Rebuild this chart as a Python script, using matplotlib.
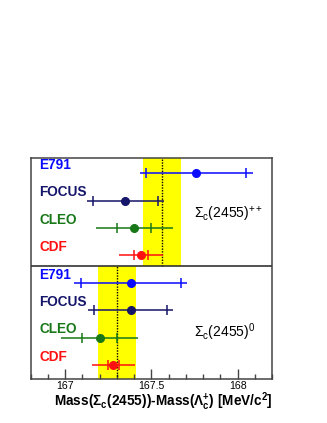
import numpy as np
import matplotlib
matplotlib.use('Agg')
import matplotlib.pyplot as plt

plt.rcParams['font.family'] = ['Liberation Sans', 'DejaVu Sans']
plt.rcParams['mathtext.fontset'] = 'custom'
plt.rcParams['mathtext.rm'] = 'Liberation Sans'
plt.rcParams['mathtext.it'] = 'Liberation Sans:italic'
plt.rcParams['mathtext.bf'] = 'Liberation Sans:bold'

# 측정값 (MeV/c^2): 중심값, 통계오차, 계통오차
experiments = ['E791', 'FOCUS', 'CLEO', 'CDF']
colors = ['#0a0aff', '#15156a', '#187818', '#ff1010']

pp_val = [167.76, 167.35, 167.40, 167.44]
pp_stat = [0.29, 0.19, 0.10, 0.04]
pp_syst = [0.15, 0.12, 0.20, 0.12]

z_val = [167.38, 167.38, 167.20, 167.28]
z_stat = [0.29, 0.21, 0.10, 0.03]
z_syst = [0.15, 0.13, 0.20, 0.12]

# PDG 평균
pdg_pp = (167.56, 0.11)
pdg_z = (167.30, 0.11)

fig = plt.figure(figsize=(3.27, 4.23), dpi=100)
ax = fig.add_axes([0.0933, 0.1047, 0.7394, 0.5211])

ytop = 8.04
sep = 4.1
ax.set_xlim(166.8, 168.2)
ax.set_ylim(0, ytop)


def draw_panel(vals, stats, systs, pdg, y0, y1, label):
    m, e = pdg
    ax.fill_betweenx([y0, y1], m - e, m + e, color='#ffff00', lw=0, zorder=1)
    ax.vlines(m, y0, y1, colors='black', linestyles=(0, (1, 1)), lw=1, zorder=2)
    rows = np.arange(len(vals))[::-1] + y0 + 0.5 - (0.1 if y0 > 0 else 0)
    for i in range(len(vals)):
        tot = np.hypot(stats[i], systs[i])
        y = rows[i]
        ax.hlines(y, vals[i] - tot, vals[i] + tot, colors=colors[i], lw=1.1, zorder=3)
        ax.plot([vals[i] - stats[i], vals[i] + stats[i]], [y, y], ls='none',
                marker='|', ms=7, mew=1.1, color=colors[i], zorder=3)
        ax.plot(vals[i], y, 'o', ms=5.5, color=colors[i], zorder=4)
        ax.text(166.85, y + 0.3, experiments[i], color=colors[i], fontsize=9.8,
                fontweight='bold', va='center', ha='left')
    ax.text(167.745, y0 + 1.9 + (0.0 if y0 > 0 else -0.2), label,
            fontsize=10, va='center', ha='left')


draw_panel(pp_val, pp_stat, pp_syst, pdg_pp, sep, ytop, r'$\Sigma_{\rm c}$(2455)$^{++}$')
draw_panel(z_val, z_stat, z_syst, pdg_z, 0, sep, r'$\Sigma_{\rm c}$(2455)$^{0}$')

ax.axhline(sep, color='#333333', lw=1.2, zorder=5)

ax.set_yticks([])
ax.set_xticks([167, 167.5, 168])
ax.set_xticklabels(['167', '167.5', '168'])
ax.set_xticks(np.arange(166.8, 168.21, 0.1), minor=True)
ax.tick_params(axis='x', which='major', direction='in', length=7.5, width=1,
               color='#444444', labelsize=7.6, pad=1.5)
ax.tick_params(axis='x', which='minor', direction='in', length=3.5, width=1,
               color='#444444')
for s in ax.spines.values():
    s.set_color('#444444')
    s.set_linewidth(1.1)

fig.text(272.3 / 327, (423 - 402) / 423,
         r'Mass($\mathbf{\Sigma_{c}}$(2455))-Mass($\mathbf{\Lambda_{c}^{+}}$) [MeV/c$^{\mathbf{2}}$]',
         fontsize=9.8, fontweight='bold', ha='right', va='center')

fig.savefig('out.png', dpi=100)
